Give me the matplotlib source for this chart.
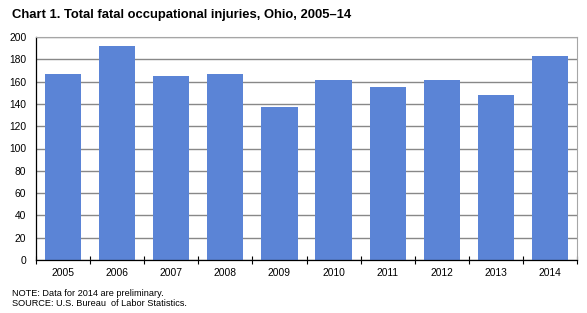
import matplotlib.pyplot as plt
import numpy as np

plt.rcParams['font.family'] = ['Liberation Sans', 'DejaVu Sans']

# data
years = ["2005", "2006", "2007", "2008", "2009", "2010", "2011", "2012", "2013", "2014"]
fatal_injuries = [167, 192, 165, 167, 137, 161, 155, 161, 148, 183]
y_ticks = [0, 20, 40, 60, 80, 100, 120, 140, 160, 180, 200]

W, H = 587, 313
fig = plt.figure(figsize=(W / 100, H / 100), dpi=100)
ax = fig.add_axes([36 / W, 1 - 260 / H, (577 - 36) / W, (260 - 37) / H])

x = np.arange(len(years))
ax.bar(x, fatal_injuries, width=0.67, color="#5B84D6", zorder=3)

ax.set_xlim(-0.5, len(years) - 0.5)
ax.set_ylim(0, 200)
ax.set_yticks(y_ticks)
ax.set_yticklabels([str(v) for v in y_ticks], fontsize=7.4)
ax.set_xticks(x)
ax.set_xticklabels(years, fontsize=7.4)
ax.set_xticks(np.arange(-0.5, len(years), 1.0), minor=True)

ax.tick_params(axis="x", which="major", length=0, pad=6)
ax.tick_params(axis="x", which="minor", length=6, direction="inout", width=0.8)
ax.tick_params(axis="y", length=0, pad=7)

ax.grid(axis="y", color="#888888", linewidth=1.0, zorder=0)
ax.spines["left"].set_color("black")
ax.spines["bottom"].set_color("black")
ax.spines["left"].set_linewidth(0.9)
ax.spines["bottom"].set_linewidth(0.9)
ax.spines["top"].set_color("#a6a6a6")
ax.spines["right"].set_color("#a6a6a6")
ax.spines["bottom"].set_zorder(4)

fig.text(12 / W, 1 - 15 / H, "Chart 1. Total fatal occupational injuries, Ohio, 2005\u201314",
         fontsize=9.4, fontweight="bold", va="center", ha="left")
fig.text(12 / W, 1 - 293 / H, "NOTE: Data for 2014 are preliminary.",
         fontsize=6.6, va="center", ha="left")
fig.text(12 / W, 1 - 303 / H, "SOURCE: U.S. Bureau  of Labor Statistics.",
         fontsize=6.6, va="center", ha="left")

fig.savefig("out.png", dpi=100)
